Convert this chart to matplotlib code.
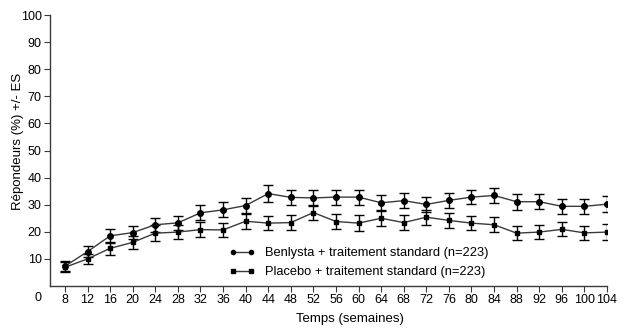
import numpy as np
import matplotlib
matplotlib.use("Agg")
import matplotlib.pyplot as plt
from matplotlib.lines import Line2D
from matplotlib import font_manager

plt.rcParams['font.family'] = ['Liberation Sans', 'DejaVu Sans']

weeks = [8, 12, 16, 20, 24, 28, 32, 36, 40, 44, 48, 52, 56,
         60, 64, 68, 72, 76, 80, 84, 88, 92, 96, 100, 104]

benlysta = [7.3, 12.7, 18.5, 19.7, 22.6, 23.3, 27.0, 28.1, 29.7, 34.1, 32.7, 32.5, 32.8,
            32.8, 30.7, 31.5, 30.1, 31.6, 32.8, 33.4, 31.1, 31.1, 29.4, 29.4, 30.2]
benlysta_se = [1.8, 1.9, 2.6, 2.5, 2.5, 2.5, 2.8, 2.8, 2.8, 3.0, 2.7, 2.8, 2.8,
               2.8, 2.8, 2.7, 2.8, 2.8, 2.7, 2.9, 3.0, 2.7, 2.7, 2.8, 2.9]

placebo = [6.9, 10.0, 13.9, 16.1, 19.5, 19.9, 20.8, 20.7, 23.9, 23.2, 23.4, 27.1, 23.8,
           23.2, 25.0, 23.4, 25.4, 24.2, 23.2, 22.6, 19.5, 19.9, 20.9, 19.6, 19.9]
placebo_se = [1.8, 1.9, 2.3, 2.4, 2.9, 2.7, 2.9, 2.7, 2.8, 2.7, 2.7, 2.7, 2.6,
              3.0, 2.8, 2.7, 2.8, 2.7, 2.7, 2.8, 2.6, 2.5, 2.6, 2.6, 2.8]

labels = ['Benlysta + traitement standard (n=223)',
          'Placebo + traitement standard (n=223)']

line_col = '#3a3a3a'

# tick labels in the original are condensed; use the narrow face if it's there
try:
    font_manager.findfont('Liberation Sans Narrow', fallback_to_default=False)
    tick_font = ['Liberation Sans Narrow', 'DejaVu Sans']
    tick_size = 10
except Exception:
    tick_font = ['Liberation Sans', 'DejaVu Sans']
    tick_size = 9

fig = plt.figure(figsize=(6.27, 3.36), dpi=100)
ax = fig.add_axes([50 / 627, 50 / 336, 557 / 627, 271 / 336])

ax.errorbar(weeks, benlysta, yerr=benlysta_se, color=line_col, lw=1.0,
            marker='o', ms=4, mfc='black', mec='black',
            ecolor='black', elinewidth=1.0, capsize=3.5, capthick=1.0)
ax.errorbar(weeks, placebo, yerr=placebo_se, color=line_col, lw=1.0,
            marker='s', ms=3.5, mfc='black', mec='black',
            ecolor='black', elinewidth=1.0, capsize=3.5, capthick=1.0)

ax.set_xlim(5.35, 104)
ax.set_ylim(0, 100)
ax.set_xticks(weeks)
ax.set_xticklabels([str(w) for w in weeks], family=tick_font, fontsize=tick_size)
ax.set_yticks(range(10, 101, 10))
ax.set_yticklabels([str(v) for v in range(10, 101, 10)], family=tick_font, fontsize=tick_size)
ax.tick_params(axis='both', direction='out', length=4, width=0.8, color=line_col, pad=2)

for side in ['top', 'right']:
    ax.spines[side].set_visible(False)
for side in ['left', 'bottom']:
    ax.spines[side].set_color(line_col)
    ax.spines[side].set_linewidth(1.0)

# origin label
ax.annotate('0', xy=(0, 0), xycoords='axes fraction', xytext=(-12, -6),
            textcoords='offset pixels', ha='center', va='top',
            family=tick_font, fontsize=tick_size)

ax.set_xlabel('Temps (semaines)', fontsize=9.5)
ax.xaxis.set_label_coords(0.539, -0.1)
ax.set_ylabel('Répondeurs (%) +/- ES', fontsize=9.5)
ax.yaxis.set_label_coords(-0.047, 0.533)

handles = [Line2D([], [], color=line_col, lw=1.0, marker='o', ms=3, mfc='black', mec='black'),
           Line2D([], [], color=line_col, lw=1.0, marker='s', ms=3, mfc='black', mec='black')]
ax.legend(handles, labels, loc='center left', bbox_to_anchor=(0.31, 0.086),
          frameon=False, fontsize=9.3, numpoints=2, handlelength=2.0,
          handletextpad=0.8, labelspacing=0.55, borderpad=0)

fig.savefig('out.png', dpi=100)
